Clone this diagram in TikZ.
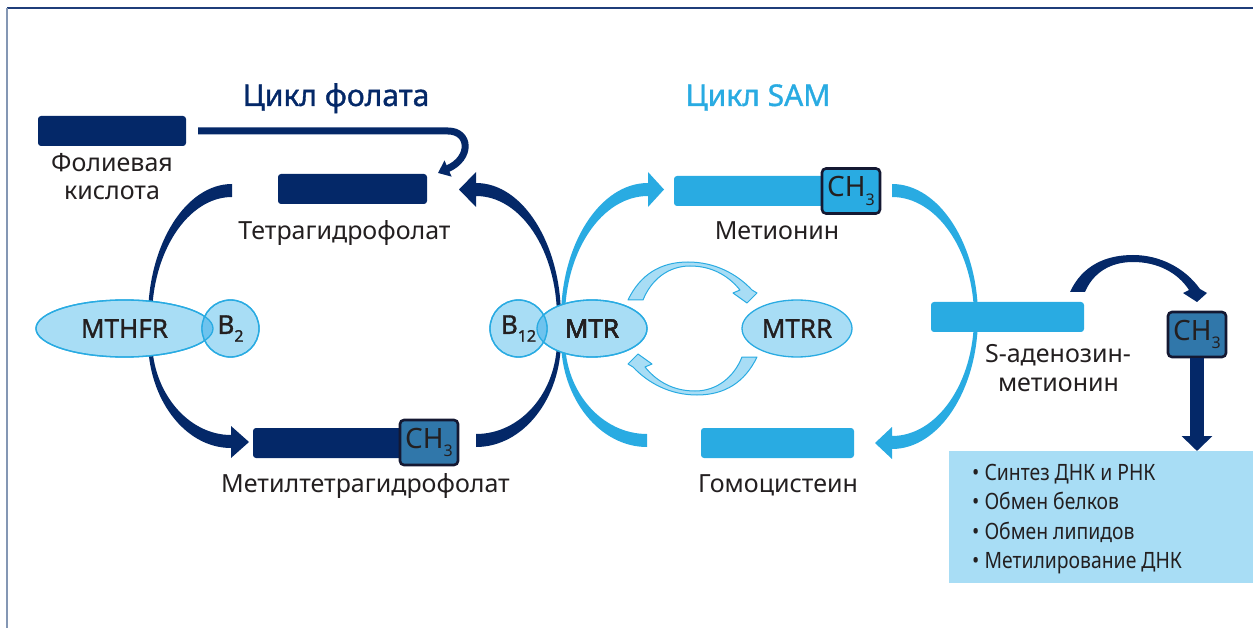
\documentclass[tikz,border=0pt]{standalone}
\usepackage{fontspec}
\setmainfont{Noto Sans}
\newfontfamily\condfont[FakeStretch=0.86]{Noto Sans}
\newfontfamily\medfont[FakeBold=1.2]{Noto Sans}
\usetikzlibrary{arrows.meta,shapes.geometric}
\definecolor{navy}{RGB}{4,40,104}
\definecolor{sky}{RGB}{41,171,226}
\definecolor{pale}{RGB}{168,221,245}
\definecolor{lens}{RGB}{110,195,238}
\definecolor{steel}{RGB}{48,119,170}
\definecolor{ink}{RGB}{20,24,50}
\definecolor{txt}{RGB}{35,31,32}
\definecolor{frametop}{RGB}{31,61,122}
\definecolor{frameleft}{RGB}{132,151,180}
\newcommand\lowsub[1]{\raisebox{-0.3em}{\fontsize{16}{16}\selectfont #1}}
\begin{document}
\begin{tikzpicture}[x=1pt,y=-1pt,
  navybar/.style={fill=navy, rounded corners=3pt, minimum height=30pt, inner sep=0pt},
  skybar/.style={fill=sky, rounded corners=3pt, minimum height=30pt, inner sep=0pt},
  lbl/.style={text=txt, font=\fontsize{25}{27}\selectfont, inner sep=0pt, anchor=base},
  ttl/.style={font=\medfont\fontsize{30}{32}\selectfont, inner sep=0pt, anchor=base},
  enz/.style={ellipse, fill=pale, draw=sky, line width=1.3pt, inner sep=0pt, minimum height=57pt, text=txt, font=\medfont\fontsize{26}{26}\selectfont},
  chbox/.style={draw=ink, line width=2.6pt, rounded corners=4pt, minimum width=58pt, minimum height=45pt, inner sep=0pt, text=txt, font=\fontsize{28}{28}\selectfont},
  ring/.style={draw=sky, line width=1.3pt},
  hollow/.style={fill=pale, draw=sky, line width=1pt, line join=round},
  item/.style={text=txt, font=\condfont\fontsize{22.5}{22.5}\selectfont, inner sep=0pt, anchor=base west},
]
\useasboundingbox (0,0) rectangle (1253,628);
% frame
\draw[frametop, line width=2pt] (7,8) -- (1253,8);
\draw[frameleft, line width=2.2pt] (7,8) -- (7,628);

% folate cycle arcs
\fill[navy] (148,318) .. controls (148,244) and (186,184) .. (232,184) -- (232,197) .. controls (188,197) and (152,252) .. (152,318) -- cycle;
\fill[navy] (148,340) .. controls (148,399) and (185,448) .. (231,448) -- (231,458) -- (249,442) -- (231,426) -- (231,435) .. controls (188,435) and (152,392) .. (152,340) -- cycle;
\fill[navy] (476,447) .. controls (523,447) and (561,399) .. (561,340) -- (557,340) .. controls (557,392) and (521,434) .. (476,434) -- cycle;
\fill[navy] (561,318) .. controls (561,244) and (523,183) .. (476,183) -- (476,172) -- (459,189.5) -- (476,207) -- (476,196) .. controls (521,196) and (557,251) .. (557,318) -- cycle;

% SAM cycle arcs
\fill[sky] (561,318) .. controls (561,244) and (600,183) .. (648,183) -- (648,172) -- (664,189.5) -- (648,207) -- (648,196) .. controls (602,196) and (565,251) .. (565,318) -- cycle;
\fill[sky] (561,340) .. controls (561,399) and (600,447) .. (647,447) -- (647,434) .. controls (602,434) and (565,392) .. (565,340) -- cycle;
\fill[sky] (892,184) .. controls (939,184) and (978,244) .. (978,317) -- (974,317) .. controls (974,251) and (937,197) .. (892,197) -- cycle;
\fill[sky] (978,317) .. controls (978,390) and (939,449) .. (892,449) -- (892,459) -- (875,443) -- (892,427) -- (892,436) .. controls (937,436) and (974,383) .. (974,317) -- cycle;

% MTR <-> MTRR hollow arrows
\path[hollow] (628,300) .. controls (640,275) and (660,262) .. (688,262) .. controls (715,262) and (737,274) .. (752,290) -- (757,293) -- (747,303) -- (733,293) -- (740,290) .. controls (727,274) and (710,266) .. (690,266) .. controls (668,266) and (651,280) .. (643,300) -- cycle;
\path[hollow, rotate around={180:(692.5,328.5)}] (628,300) .. controls (640,275) and (660,262) .. (688,262) .. controls (715,262) and (737,274) .. (752,290) -- (757,293) -- (747,303) -- (733,293) -- (740,290) .. controls (727,274) and (710,266) .. (690,266) .. controls (668,266) and (651,280) .. (643,300) -- cycle;

% SAM -> CH3 arc
\fill[navy] (1070,292) .. controls (1082,266) and (1105,255) .. (1133,255) .. controls (1160,255) and (1185,268) .. (1200,289) -- (1207,293) -- (1197,302) -- (1183,293) -- (1189,290) .. controls (1178,273) and (1158,262) .. (1133,262) .. controls (1110,262) and (1093,273) .. (1085,292) -- cycle;

% bars
\node[navybar, minimum width=148pt] (folic) at (112,131) {};
\node[navybar, minimum width=149pt] (thf) at (352.5,189) {};
\node[navybar, minimum width=180pt] (mthf) at (343,443) {};
\node[chbox, fill=steel] (ch3a) at (429,442.5) {CH\lowsub{3}};
\node[skybar, minimum width=160pt] (met) at (754,191) {};
\node[chbox, fill=sky] (ch3m) at (851,191) {CH\lowsub{3}};
\node[skybar, minimum width=153pt] (sam) at (1007.5,317) {};
\node[skybar, minimum width=153pt] (hcy) at (777.5,443) {};
\node[chbox, fill=steel] (ch3r) at (1197,334.5) {CH\lowsub{3}};

% folic acid arrow
\coordinate (fatip) at (438,173);
\draw[navy, line width=7pt, -{Triangle[width=17pt,length=11pt]}] ([xshift=12pt]folic.east) -- (448,131) .. controls (470,131) and (472,158) .. (fatip);

% enzymes
\node[enz, minimum width=177pt] (mthfr) at (124.5,328.5) {MTHFR};
\node[enz, circle, minimum size=57pt] (b2) at (230.5,328.5) {B\lowsub{2}};
\begin{scope}
  \clip (mthfr.center) ellipse [x radius=88.5pt, y radius=28.5pt];
  \fill[lens] (b2.center) circle [radius=28.5pt];
\end{scope}
\draw[ring] (mthfr.center) ellipse [x radius=88.5pt, y radius=28.5pt];
\draw[ring] (b2.center) circle [radius=28.5pt];

\node[enz, minimum width=110pt] (mtr) at (592,328.5) {MTR};
\node[enz, circle, minimum size=57pt] (b12) at (518.5,328.5) {B\lowsub{12}};
\begin{scope}
  \clip (mtr.center) ellipse [x radius=55pt, y radius=28.5pt];
  \fill[lens] (b12.center) circle [radius=28.5pt];
\end{scope}
\draw[ring] (mtr.center) ellipse [x radius=55pt, y radius=28.5pt];
\draw[ring] (b12.center) circle [radius=28.5pt];
\node[text=txt, font=\medfont\fontsize{26}{26}\selectfont, inner sep=0pt] (mtrT) at (mtr.center) {MTR};
\node[enz, minimum width=110pt] (mtrr) at (797,328.5) {MTRR};

% list box and arrow
\node[fill=pale, minimum width=304pt, minimum height=132pt, inner sep=0pt, anchor=north west] (list) at (949,451) {};
\draw[navy, line width=14pt, -{Triangle[width=30pt,length=15pt]}] (ch3r.south) -- (ch3r.south |- list.north);
\node[item] (i1) at (972,480) {• Синтез ДНК и РНК};
\node[item] (i2) at (972,509.5) {• Обмен белков};
\node[item] (i3) at (972,539) {• Обмен липидов};
\node[item] (i4) at (972,568.5) {• Метилирование ДНК};

% labels
\node[lbl] (folicL1) at (112,172) {Фолиевая};
\node[lbl] (folicL2) at (112,200) {кислота};
\node[lbl] (thfL) at (344.5,240) {Тетрагидрофолат};
\node[lbl] (mthfL) at (365.5,492) {Метилтетрагидрофолат};
\node[lbl] (metL) at (777,240) {Метионин};
\node[lbl] (hcyL) at (778,492) {Гомоцистеин};
\node[lbl] (samL1) at (1058,362) {S-аденозин-};
\node[lbl] (samL2) at (1058.5,391) {метионин};
\node[ttl, text=navy] (t1) at (336,106) {Цикл фолата};
\node[ttl, text=sky] (t2) at (758,106) {Цикл SAM};
\end{tikzpicture}
\end{document}
